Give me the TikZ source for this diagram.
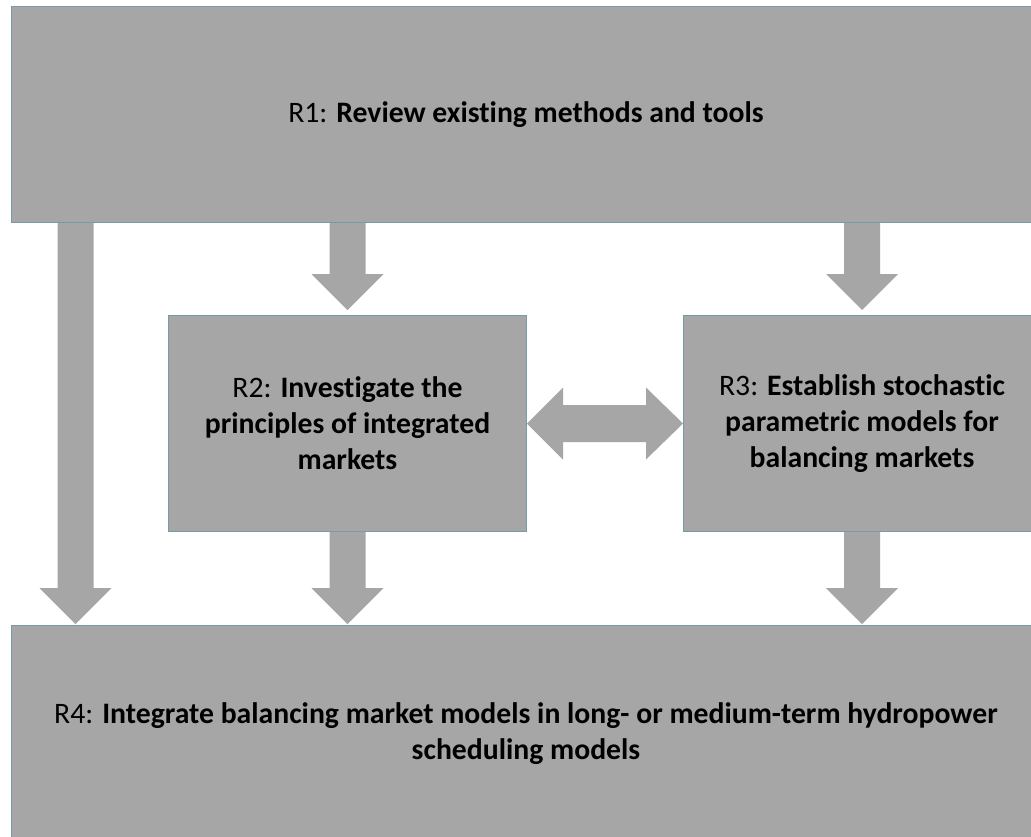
\documentclass[tikz,border=0pt]{standalone}
\usepackage{fontspec}
\setmainfont{Carlito}[Ligatures=NoCommon]
\usetikzlibrary{calc,backgrounds}
\definecolor{boxgray}{RGB}{166,166,166}
\definecolor{boxedge}{RGB}{118,156,166}

\begin{document}
\begin{tikzpicture}[x=1pt,y=-1pt,
  box/.style={fill=boxgray, draw=boxedge, line width=1pt, anchor=north west,
    inner sep=0pt, align=center, text=black,
    font=\fontsize{29.7}{36}\selectfont},
  flow/.style={fill=boxgray},
  % broad arrow pointing down: shaft 36pt wide, head 72pt wide and 36pt long
  downarrow/.style={to path={let \p1=(\tikztostart), \p2=(\tikztotarget) in
    (\x1-18pt,\y1) -- (\x1+18pt,\y1) -- (\x1+18pt,\y2+36pt) -- (\x1+36pt,\y2+36pt)
    -- (\x1,\y2) -- (\x1-36pt,\y2+36pt) -- (\x1-18pt,\y2+36pt) -- cycle}},
  % broad arrow with heads at both ends, horizontal
  botharrow/.style={to path={let \p1=(\tikztostart), \p2=(\tikztotarget) in
    (\x1,\y1) -- (\x1+36pt,\y1+36pt) -- (\x1+36pt,\y1+18.5pt) -- (\x2-37pt,\y1+18.5pt)
    -- (\x2-37pt,\y1+36pt) -- (\x2,\y1) -- (\x2-37pt,\y1-36pt) -- (\x2-37pt,\y1-18.5pt)
    -- (\x1+36pt,\y1-18.5pt) -- (\x1+36pt,\y1-36pt) -- cycle}},
]
\useasboundingbox (0,0) rectangle (1031,836);
\clip (0,0) rectangle (1031,836);

\node[box, minimum width=1029, minimum height=216] (r1) at (11,6)
  {R1: \textbf{Review existing methods and tools}};
\node[box, minimum width=358, minimum height=216] (r2) at (168,315)
  {R2: \textbf{Investigate the}\\ \textbf{principles of integrated}\\ \textbf{markets}};
\node[box, minimum width=357, minimum height=216] (r3) at (683,315)
  {R3: \textbf{Establish stochastic}\\ \textbf{parametric models for}\\ \textbf{balancing markets}};
\node[box, minimum width=1029, minimum height=217] (r4) at (11,625)
  {R4: \textbf{Integrate balancing market models in long- or medium-term hydropower}\\ \textbf{scheduling models}};

\coordinate (leftfrom) at ($(r1.south west)+(64.5,0)$);
\coordinate (leftto) at ($(r4.north west)+(64.5,-1)$);

\begin{scope}[on background layer]
  \fill[white] (0,0) rectangle (1031,836);
  \fill[flow] (leftfrom) to[downarrow] (leftto);
  \fill[flow] (r1.south -| r2.north) to[downarrow] ($(r2.north)+(0,-5)$);
  \fill[flow] (r1.south -| r3.north) to[downarrow] ($(r3.north)+(0,-5)$);
  \fill[flow] (r2.south) to[downarrow] ($(r4.north -| r2.south)+(0,-1)$);
  \fill[flow] (r3.south) to[downarrow] ($(r4.north -| r3.south)+(0,-1)$);
  \fill[flow] (r2.east) to[botharrow] (r3.west);
\end{scope}
\end{tikzpicture}
\end{document}
